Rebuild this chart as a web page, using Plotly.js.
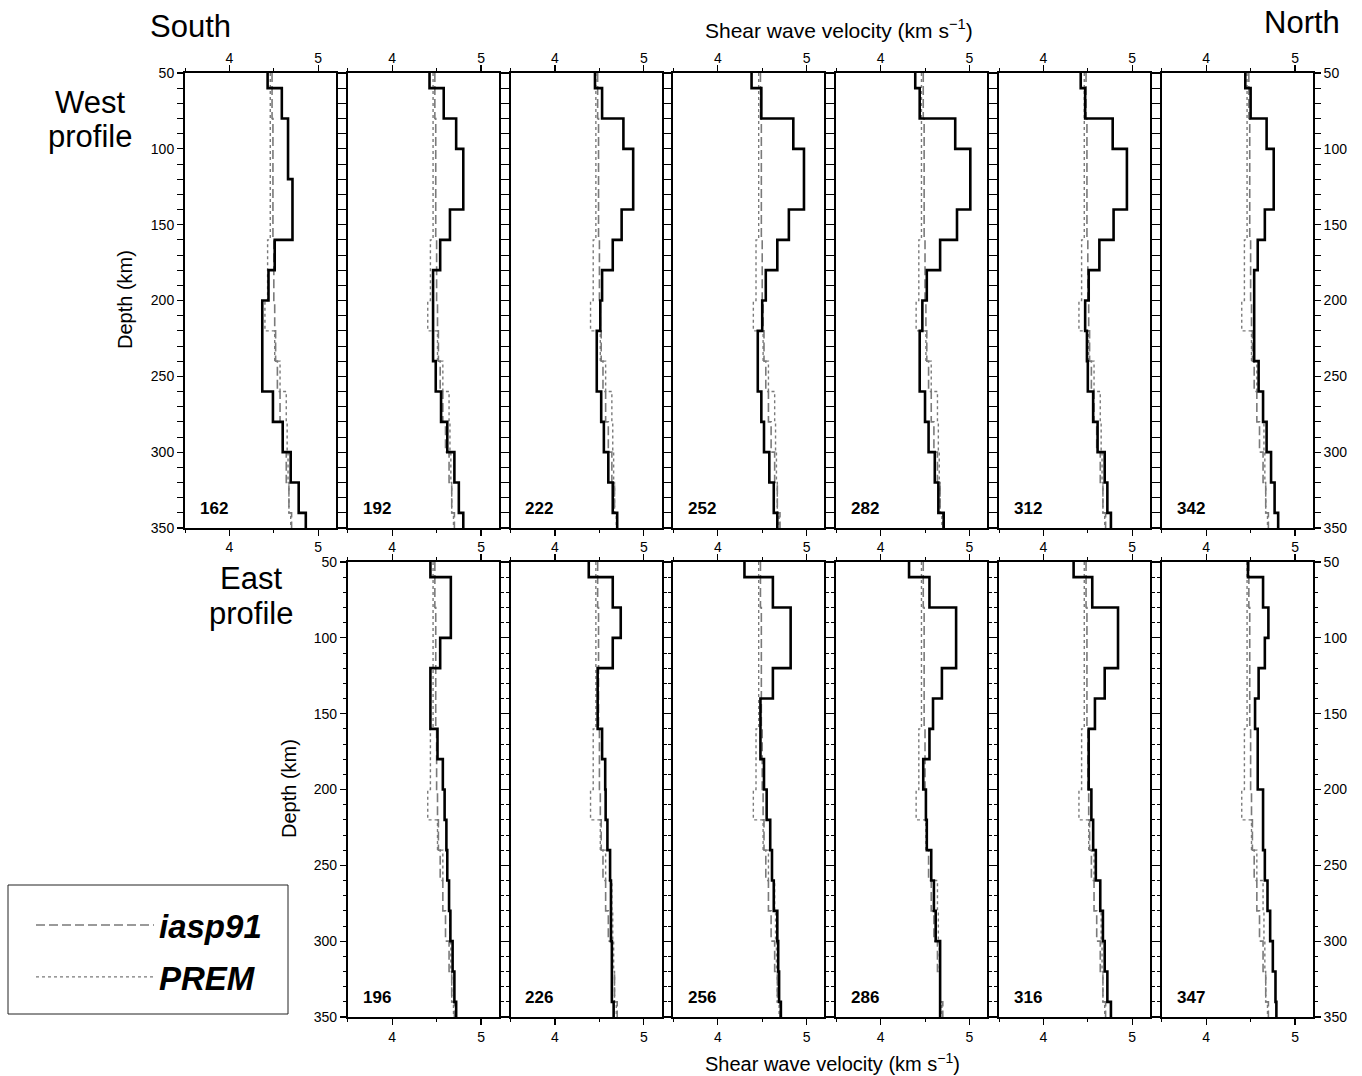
<!DOCTYPE html>
<html><head><meta charset="utf-8">
<script src="https://cdn.plot.ly/plotly-3.0.1.min.js"></script>
<style>html,body{margin:0;padding:0;background:#fff}</style>
</head><body><div id="chart" style="width:1362px;height:1076px"></div>
<script>
// ---------- data ----------
const layerTops = [50,60,80,100,120,140,160,180,200,220,240,260,280,300,320,340];
const depthMax = 350;
const iasp91 = [4.48,4.48,4.49,4.49,4.49,4.49,4.50,4.50,4.51,4.52,4.54,4.57,4.60,4.64,4.67,4.70];
const prem   = [4.46,4.46,4.46,4.46,4.46,4.46,4.43,4.43,4.40,4.51,4.57,4.64,4.65,4.66,4.67,4.69];

const westStations = ['162','192','222','252','282','312','342'];
const west162 = [4.43,4.59,4.66,4.66,4.71,4.71,4.51,4.44,4.37,4.37,4.37,4.49,4.60,4.69,4.78,4.86];
const west192 = [4.42,4.58,4.72,4.80,4.80,4.65,4.54,4.46,4.46,4.46,4.49,4.55,4.62,4.70,4.75,4.80];
const west222 = [4.45,4.53,4.77,4.88,4.88,4.75,4.65,4.53,4.51,4.47,4.47,4.52,4.55,4.60,4.65,4.70];
const west252 = [4.38,4.49,4.85,4.97,4.97,4.80,4.67,4.54,4.50,4.45,4.45,4.49,4.52,4.58,4.63,4.67];
const west282 = [4.39,4.44,4.84,5.01,5.01,4.86,4.67,4.52,4.47,4.44,4.44,4.50,4.54,4.61,4.65,4.71];
const west312 = [4.42,4.47,4.78,4.94,4.94,4.79,4.63,4.51,4.47,4.49,4.50,4.56,4.61,4.69,4.72,4.76];
const west342 = [4.44,4.50,4.68,4.76,4.76,4.66,4.58,4.54,4.54,4.54,4.59,4.64,4.68,4.73,4.77,4.81];

const eastStations = ['196','226','256','286','316','347'];
const east196 = [4.43,4.66,4.66,4.54,4.43,4.43,4.51,4.57,4.59,4.61,4.62,4.64,4.655,4.68,4.70,4.72];
const east226 = [4.38,4.65,4.74,4.65,4.48,4.48,4.53,4.565,4.57,4.59,4.62,4.63,4.63,4.64,4.64,4.66];
const east256 = [4.30,4.62,4.82,4.82,4.62,4.48,4.48,4.52,4.55,4.59,4.61,4.63,4.67,4.68,4.69,4.71];
const east286 = [4.32,4.55,4.85,4.85,4.69,4.59,4.55,4.48,4.51,4.52,4.57,4.60,4.62,4.67,4.67,4.67];
const east316 = [4.34,4.55,4.84,4.84,4.69,4.58,4.51,4.51,4.54,4.56,4.59,4.64,4.67,4.69,4.72,4.76];
const east347 = [4.47,4.64,4.70,4.66,4.59,4.55,4.58,4.58,4.64,4.64,4.66,4.69,4.72,4.75,4.78,4.79];

const velTicks = [4,5];
const depthTicks = [50,100,150,200,250,300,350];
const velRange = [3.5,5.2];

// ---------- layout helpers ----------
const W = 1362, H = 1076;
const FONT = 'Liberation Sans, Arial, Helvetica, sans-serif';
const westProfiles = [west162,west192,west222,west252,west282,west312,west342];
const eastProfiles = [east196,east226,east256,east286,east316,east347];

const panels = [];
westStations.forEach((s,i)=>panels.push({label:s, vs:westProfiles[i], row:0, col:i}));
eastStations.forEach((s,i)=>panels.push({label:s, vs:eastProfiles[i], row:1, col:i+1}));

const colLeft = c => 185 + 162.8*c;
const panelW = 151, panelH = 455;
const rowTop = [73, 562];

const stepY = layerTops.concat([depthMax]);
const stepX = v => v.concat([v[v.length-1]]);

const traces = [];
const layout = {
  width: W, height: H,
  margin: {l:0, r:0, t:0, b:0},
  paper_bgcolor: '#fff', plot_bgcolor: '#fff',
  font: {family: FONT, color: '#000', size: 14},
  showlegend: true,
  legend: {
    x: 31/W, xanchor: 'left', y: 1-951/H, yanchor: 'middle',
    font: {family: FONT, size: 33, weight: 'bold', style: 'italic', color: '#000'},
    bgcolor: 'rgba(0,0,0,0)', borderwidth: 0,
    traceorder: 'grouped', tracegroupgap: 6, itemwidth: 118
  },
  annotations: [], shapes: []
};

const axCommon = {
  showline: true, linewidth: 2, linecolor: '#000', mirror: 'allticks',
  ticks: 'outside', ticklen: 6, tickwidth: 1.2, tickcolor: '#000',
  showgrid: false, zeroline: false, fixedrange: true,
  tickfont: {family: FONT, size: 14, color: '#000'}
};

panels.forEach((p, idx) => {
  const k = idx + 1;
  const xs = 'x' + (k===1?'':k), ys = 'y' + (k===1?'':k);
  const L = colLeft(p.col), T = rowTop[p.row];
  layout['xaxis' + (k===1?'':k)] = Object.assign({}, axCommon, {
    domain: [L/W, (L+panelW)/W], anchor: ys, range: velRange,
    tickvals: velTicks, ticktext: velTicks.map(String),
    side: p.row===0 ? 'top' : 'bottom',
    ticklabelstandoff: p.row===0 ? -4 : 0,
    minor: {dtick: 0.5, tick0: 0, ticks: 'outside', ticklen: 3, tickcolor: '#000', tickwidth: 1}
  });
  const showY = (p.row===0 && p.col===0) || (p.row===1 && p.col===1) || p.col===6;
  layout['yaxis' + (k===1?'':k)] = Object.assign({}, axCommon, {
    domain: [1-(T+panelH)/H, 1-T/H], anchor: xs, range: [depthMax, 50],
    tickvals: depthTicks, ticktext: depthTicks.map(String),
    showticklabels: showY, side: p.col===6 ? 'right' : 'left',
    minor: {dtick: 10, tick0: 0, ticks: 'outside', ticklen: 3, tickcolor: '#000', tickwidth: 1}
  });
  const first = idx === 0;
  traces.push({x: stepX(iasp91), y: stepY, xaxis: xs, yaxis: ys, type: 'scatter', mode: 'lines',
    name: 'iasp91', legendgroup: 'a', showlegend: first, hoverinfo: 'skip',
    line: {shape: 'vh', color: '#7a7a7a', width: 1.6, dash: '9px,4px'}});
  traces.push({x: stepX(prem), y: stepY, xaxis: xs, yaxis: ys, type: 'scatter', mode: 'lines',
    name: 'PREM', legendgroup: 'b', showlegend: first, hoverinfo: 'skip',
    line: {shape: 'vh', color: '#7a7a7a', width: 1.4, dash: 'dot'}});
  traces.push({x: stepX(p.vs), y: stepY, xaxis: xs, yaxis: ys, type: 'scatter', mode: 'lines',
    name: p.label, showlegend: false, hoverinfo: 'skip',
    line: {shape: 'vh', color: '#000', width: 2.6}});
  layout.annotations.push({text: '<b>' + p.label + '</b>', xref: xs + ' domain', yref: ys + ' domain',
    x: 0.085, y: 0.018, xanchor: 'left', yanchor: 'bottom', showarrow: false,
    font: {family: FONT, size: 17, color: '#000'}});
});

// label-only axes under the top row (between rows)
for (let c = 0; c < 7; c++) {
  const k = 14 + c;
  const base = c===0 ? '' : String(c+1);
  layout['xaxis' + k] = {
    overlaying: 'x' + base, anchor: 'y' + base, side: 'bottom', range: velRange,
    tickvals: velTicks, ticktext: velTicks.map(String),
    ticks: 'outside', ticklen: 6, tickcolor: 'rgba(0,0,0,0)',
    showline: false, showgrid: false, zeroline: false, fixedrange: true,
    tickfont: {family: FONT, size: 14, color: '#000'}
  };
  traces.push({x: [null], y: [null], xaxis: 'x' + k, yaxis: 'y' + base, type: 'scatter', mode: 'lines',
    showlegend: false, hoverinfo: 'skip'});
}

// titles
const ann = (text, x, y, size, extra) => layout.annotations.push(Object.assign({
  text, x: x/W, y: 1-y/H, xref: 'paper', yref: 'paper', showarrow: false,
  xanchor: 'center', yanchor: 'middle', font: {family: FONT, size, color: '#000'}}, extra||{}));
ann('South', 190, 26, 31);
ann('North', 1302, 23, 31);
ann('West', 90, 102, 31);
ann('profile', 90, 137, 31);
ann('East', 251, 578, 31);
ann('profile', 251, 613, 31);
ann('Shear wave velocity (km s<sup>−1</sup>)', 839, 29, 21);
ann('Shear wave velocity (km s<sup>−1</sup>)', 832, 1062, 20);
ann('Depth (km)', 125, 300, 20, {textangle: -90});
ann('Depth (km)', 289, 789, 20, {textangle: -90});

// legend frame
layout.shapes.push({type: 'rect', xref: 'paper', yref: 'paper',
  x0: 8/W, x1: 288/W, y0: 1-1014/H, y1: 1-885/H, line: {color: '#222', width: 1}});

Plotly.newPlot('chart', traces, layout, {staticPlot: true, displayModeBar: false});
</script></body></html>
